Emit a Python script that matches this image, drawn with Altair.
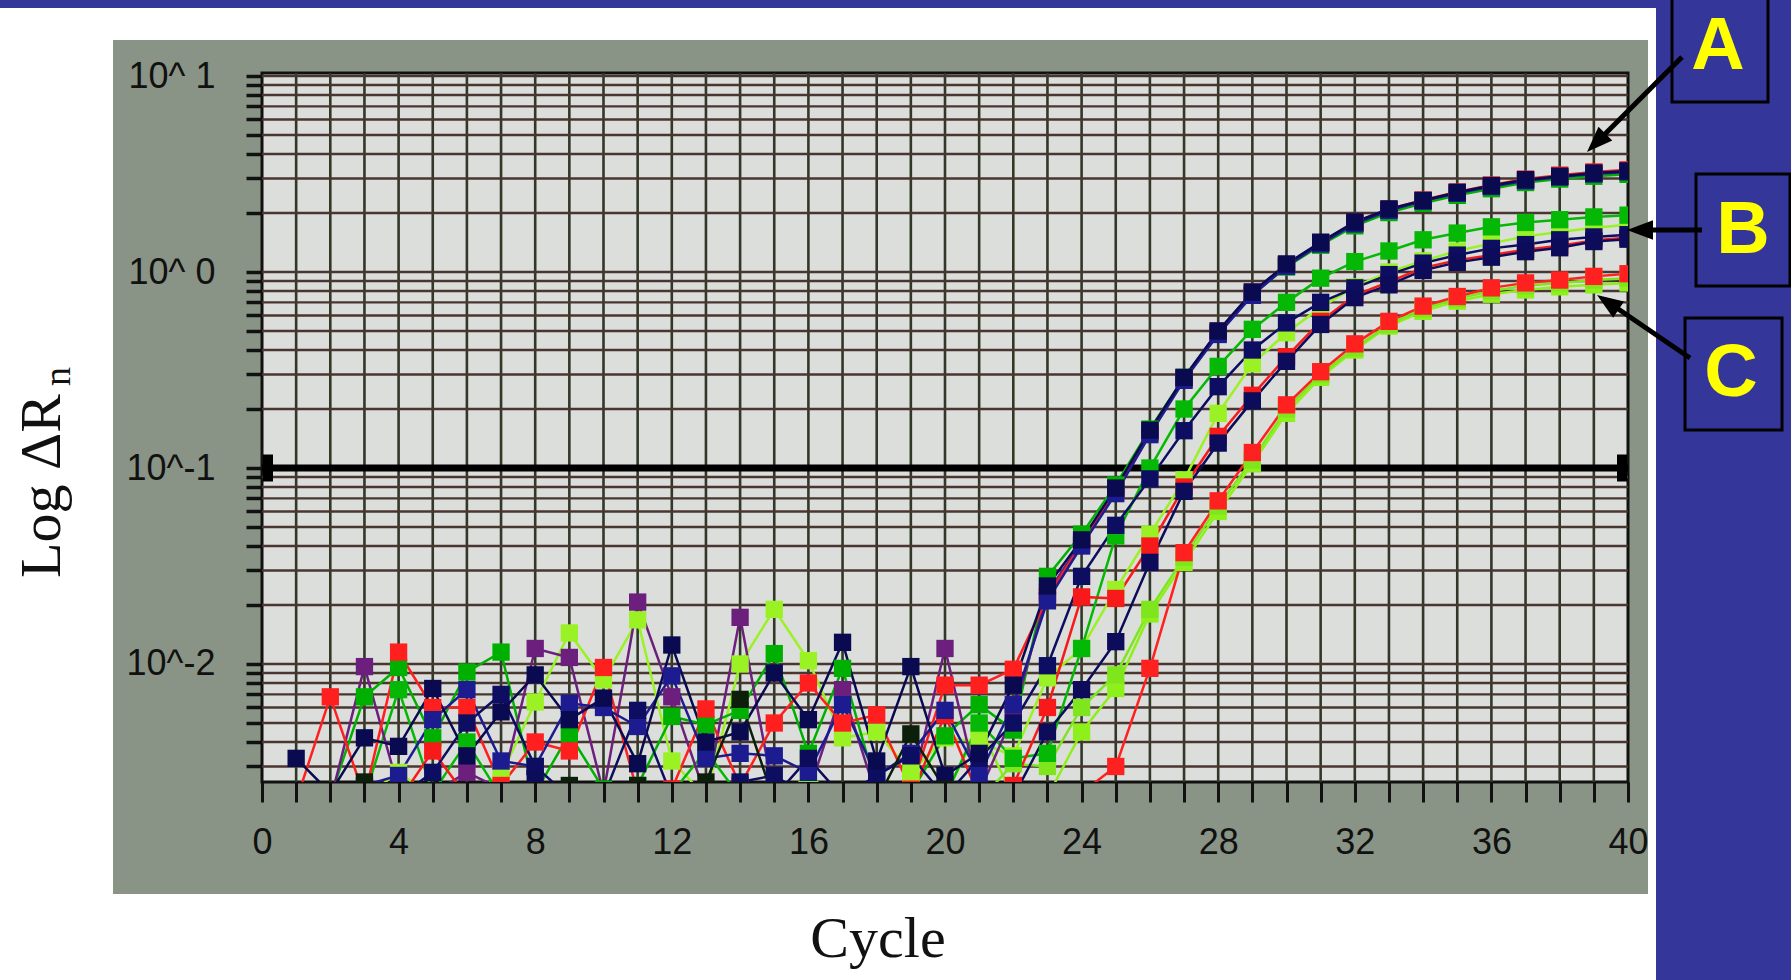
import altair as alt
import pandas as pd

# ---------------- data ----------------
cycles = list(range(1, 41))

a1_navy = [0.0033, 0.0022, 0.0042, 0.0038, 0.0075, 0.0034, 0.0057, 0.0088, 0.0052, 0.0067,
           0.0031, 0.0125, 0.0040, 0.0045, 0.0090, 0.0052, 0.0129, 0.0032, 0.0097, 0.0027,
           0.0035, 0.0078, 0.025, 0.043, 0.079, 0.156, 0.29, 0.50, 0.79, 1.10,
           1.42, 1.80, 2.10, 2.32, 2.55, 2.76, 2.96, 3.08, 3.20, 3.28]
a2_blue = [0.0021, 0.0020, 0.0024, 0.0027, 0.0052, 0.0074, 0.0032, 0.0030, 0.0063, 0.0060,
           0.0048, 0.0087, 0.0033, 0.0035, 0.0034, 0.0028, 0.0062, 0.0027, 0.0035, 0.0058,
           0.0027, 0.0062, 0.021, 0.040, 0.074, 0.148, 0.28, 0.48, 0.76, 1.07,
           1.39, 1.76, 2.06, 2.30, 2.52, 2.73, 2.92, 3.05, 3.16, 3.24]
a3_red = [0.0020, 0.0068, 0.0021, 0.0115, 0.0060, 0.0060, 0.0024, 0.0040, 0.0036, 0.0096,
          0.0022, 0.0023, 0.0059, 0.0024, 0.0050, 0.0080, 0.0050, 0.0055, 0.0023, 0.0078,
          0.0078, 0.0094, 0.022, 0.041, 0.077, 0.152, 0.285, 0.49, 0.78, 1.09,
          1.41, 1.79, 2.09, 2.33, 2.56, 2.78, 2.98, 3.12, 3.24, 3.32]
a4_green = [0.0020, 0.0021, 0.0068, 0.0096, 0.0042, 0.0091, 0.0115, 0.0022, 0.0044, 0.0023,
            0.0024, 0.0054, 0.0049, 0.0058, 0.0113, 0.0035, 0.0095, 0.0023, 0.0022, 0.0043,
            0.0062, 0.0046, 0.028, 0.046, 0.082, 0.158, 0.29, 0.49, 0.77, 1.06,
            1.37, 1.72, 2.01, 2.24, 2.46, 2.66, 2.86, 2.98, 3.08, 3.15]
a5_purple = [0.0020, 0.0020, 0.0097, 0.0023, 0.0022, 0.0028, 0.0023, 0.0120, 0.0108, 0.0022,
             0.0207, 0.0068, 0.0021, 0.0173, 0.0021, 0.0022, 0.0074, 0.0021, 0.0022, 0.0120,
             0.0022, 0.0055, 0.023, 0.042, 0.078, 0.153, 0.288, 0.50, 0.79, 1.09,
             1.41, 1.78, 2.08, 2.31, 2.54, 2.74, 2.95, 3.07, 3.19, 3.27]
b1_green = [0.0020, 0.0020, 0.0021, 0.0074, 0.0022, 0.0040, 0.0021, 0.0022, 0.0021, 0.0022,
            0.0021, 0.0022, 0.0036, 0.0021, 0.0022, 0.0021, 0.0022, 0.0021, 0.0021, 0.0021,
            0.0050, 0.0033, 0.0035, 0.012, 0.045, 0.100, 0.20, 0.33, 0.51, 0.70,
            0.93, 1.13, 1.28, 1.46, 1.58, 1.70, 1.79, 1.85, 1.91, 1.95]
b2_navy = [0.0020, 0.0020, 0.0020, 0.0021, 0.0028, 0.0050, 0.0070, 0.0030, 0.0021, 0.0021,
           0.0058, 0.0021, 0.0021, 0.0025, 0.0027, 0.0021, 0.0021, 0.0027, 0.0034, 0.0021,
           0.0033, 0.0050, 0.0098, 0.028, 0.051, 0.088, 0.155, 0.26, 0.40, 0.55,
           0.70, 0.83, 0.97, 1.11, 1.22, 1.32, 1.38, 1.46, 1.51, 1.55]
b3_lime = [0.0020, 0.0020, 0.0021, 0.0028, 0.0021, 0.0021, 0.0027, 0.0064, 0.0144, 0.0083,
           0.0168, 0.0032, 0.0021, 0.0100, 0.0190, 0.0104, 0.0042, 0.0045, 0.0028, 0.0042,
           0.0040, 0.0034, 0.0085, 0.012, 0.024, 0.046, 0.087, 0.19, 0.34, 0.49,
           0.66, 0.84, 1.00, 1.14, 1.28, 1.40, 1.52, 1.60, 1.68, 1.74]
b4_navy = [0.0020, 0.0020, 0.0020, 0.0020, 0.0021, 0.0021, 0.0021, 0.0026, 0.0021, 0.0021,
           0.0021, 0.0021, 0.0021, 0.0021, 0.0021, 0.0033, 0.0021, 0.0021, 0.0021, 0.0021,
           0.0021, 0.0021, 0.0045, 0.0074, 0.013, 0.033, 0.076, 0.134, 0.22, 0.35,
           0.54, 0.74, 0.86, 1.02, 1.12, 1.19, 1.27, 1.33, 1.43, 1.47]
b5_red = [0.0020, 0.0020, 0.0020, 0.0020, 0.0036, 0.0021, 0.0021, 0.0021, 0.0021, 0.0021,
          0.0021, 0.0021, 0.0021, 0.0021, 0.0021, 0.0021, 0.0021, 0.0021, 0.0021, 0.0055,
          0.0021, 0.0024, 0.0060, 0.022, 0.0216, 0.040, 0.080, 0.145, 0.235, 0.37,
          0.56, 0.76, 0.89, 1.05, 1.15, 1.22, 1.30, 1.36, 1.45, 1.50]
c1_red = [0.0020, 0.0020, 0.0020, 0.0020, 0.0020, 0.0021, 0.0020, 0.0020, 0.0020, 0.0020,
          0.0020, 0.0020, 0.0020, 0.0020, 0.0020, 0.0020, 0.0020, 0.0021, 0.0020, 0.0021,
          0.0021, 0.0021, 0.0021, 0.0022, 0.0030, 0.0095, 0.037, 0.068, 0.12, 0.21,
          0.31, 0.43, 0.56, 0.67, 0.75, 0.83, 0.88, 0.91, 0.95, 0.98]
c2_lime = [0.0020, 0.0020, 0.0020, 0.0020, 0.0021, 0.0020, 0.0020, 0.0020, 0.0020, 0.0020,
           0.0020, 0.0020, 0.0020, 0.0021, 0.0020, 0.0020, 0.0020, 0.0021, 0.0026, 0.0021,
           0.0048, 0.0021, 0.0021, 0.0045, 0.0075, 0.018, 0.033, 0.060, 0.105, 0.19,
           0.29, 0.40, 0.53, 0.63, 0.71, 0.77, 0.81, 0.84, 0.86, 0.88]
c3_lime = [0.0020, 0.0020, 0.0020, 0.0020, 0.0020, 0.0020, 0.0020, 0.0020, 0.0020, 0.0020,
           0.0020, 0.0020, 0.0020, 0.0020, 0.0020, 0.0027, 0.0020, 0.0021, 0.0020, 0.0020,
           0.0020, 0.0031, 0.0030, 0.0060, 0.0088, 0.019, 0.035, 0.064, 0.11, 0.20,
           0.30, 0.41, 0.54, 0.65, 0.73, 0.80, 0.85, 0.88, 0.91, 0.93]
k_black = [0.0020, 0.0020, 0.0025, 0.0020, 0.0020, 0.0020, 0.0020, 0.0020, 0.0024, 0.0020,
           0.0024, 0.0020, 0.0025, 0.0066, 0.0020, 0.0020, 0.0020, 0.0020, 0.0044, 0.0023,
           0.0020, 0.0020, 0.0020, 0.0020, 0.0020, 0.0020, 0.0020, 0.0020, 0.0020, 0.0020,
           0.0020, 0.0020, 0.0020, 0.0020, 0.0020, 0.0020, 0.0020, 0.0020, 0.0020, 0.0020]

# drawing order: first = bottom
series_names = ["C2", "C3", "B3", "A4", "B1", "A5", "A3", "B5", "C1",
                "A2", "B2", "B4", "A1", "K"]
series_values = [c2_lime, c3_lime, b3_lime, a4_green, b1_green, a5_purple, a3_red,
                 b5_red, c1_red, a2_blue, b2_navy, b4_navy, a1_navy, k_black]
series_colors = ["#8ef01a", "#7fe61e", "#9af224", "#00b000", "#06b806", "#6c1f7c",
                 "#ff1f1f", "#f81a1a", "#ff2020", "#1c1c90", "#0d0d62", "#0c0c5a",
                 "#0a0a50", "#0b1f0b"]

threshold = [0.1]
x_grid = list(range(1, 40))
y_grid = [0.003, 0.004, 0.005, 0.006, 0.007, 0.008, 0.009,
          0.01, 0.02, 0.03, 0.04, 0.05, 0.06, 0.07, 0.08, 0.09,
          0.1, 0.2, 0.3, 0.4, 0.5, 0.6, 0.7, 0.8, 0.9,
          1, 2, 3, 4, 5, 6, 7, 8, 9, 10]
x_ticks = list(range(0, 41))

rows = []
for name, vals in zip(series_names, series_values):
    for c, v in zip(cycles, vals):
        rows.append({"series": name, "cycle": c, "value": v})
df = pd.DataFrame(rows)

# ---------------- scales / axes ----------------
W, H = 1366, 709
xscale = alt.Scale(domain=[0, 40], nice=False, zero=False)
yscale = alt.Scale(type="log", domain=[0.0025, 10.36], nice=False)

xaxis = alt.Axis(values=x_ticks, format="d",
                 labelExpr="datum.value % 4 == 0 ? datum.label : ''",
                 grid=False, domain=False, ticks=True, tickSize=20, tickWidth=3,
                 tickColor="#111111", labelFont="Liberation Sans", labelFontSize=36,
                 labelColor="#111111", labelPadding=40, labelBaseline="middle",
                 labelOverlap=False, labelFlush=False, title=None)
yaxis = alt.Axis(values=y_grid,
                 labelExpr="datum.value == 10 ? '10^ 1' : datum.value == 1 ? '10^ 0' : "
                           "datum.value == 0.1 ? '10^-1' : datum.value == 0.01 ? '10^-2' : ''",
                 grid=False, domain=False, ticks=True, tickSize=16, tickWidth=3.5,
                 tickColor="#111111", labelFont="Liberation Sans", labelFontSize=36,
                 labelColor="#111111", labelPadding=31, labelOverlap=False,
                 labelFlush=False, title=None)


def X(field):
    return alt.X(field, scale=xscale, axis=xaxis)


def Y(field):
    return alt.Y(field, scale=yscale, axis=yaxis)


dummy = pd.DataFrame({"k": [0]})


def rect(x, x2, y, y2, fill, stroke=None, sw=0):
    kw = dict(fill=fill, clip=False)
    if stroke:
        kw.update(stroke=stroke, strokeWidth=sw)
    return alt.Chart(dummy).mark_rect(**kw).encode(
        x=alt.value(x), x2=alt.value(x2), y=alt.value(y), y2=alt.value(y2))


def text(t, x, y, size, font, weight="normal", color="#111111", angle=0,
         align="center", baseline="alphabetic"):
    return alt.Chart(dummy).mark_text(
        text=t, font=font, fontSize=size, fontWeight=weight, color=color,
        angle=angle, align=align, baseline=baseline, clip=False).encode(
        x=alt.value(x), y=alt.value(y))


def shaft(x, y, x2, y2):
    return alt.Chart(dummy).mark_rule(color="black", strokeWidth=5, clip=False).encode(
        x=alt.value(x), y=alt.value(y), x2=alt.value(x2), y2=alt.value(y2))


def head(x, y, ang):
    return alt.Chart(dummy).mark_point(
        shape="M0,-1L0.75,1L-0.75,1Z", size=676, filled=True, color="black",
        opacity=1, angle=ang, clip=False).encode(x=alt.value(x), y=alt.value(y))


SLIDE = "#34369a"
layers = [
    # white margins around the scanned grey panel
    rect(-262, -149, -73, 907, "white"),
    rect(-262, 1394, -73, -33, "white"),
    rect(-262, 1394, 821, 907, "white"),
    rect(1386, 1394, -73, 907, "white"),
    # slide frame
    rect(-262, 1529, -73, -65, SLIDE),
    rect(1394, 1529, -73, 907, SLIDE),
]

vgrid = alt.Chart(pd.DataFrame({"c": x_grid})).mark_rule(
    color="#303828", strokeWidth=2.6).encode(x=X("c:Q"))
hgrid = alt.Chart(pd.DataFrame({"v": y_grid})).mark_rule(
    color="#4a3630", strokeWidth=2.4).encode(y=Y("v:Q"))
thr = alt.Chart(pd.DataFrame({"t": threshold})).mark_rule(
    color="black", strokeWidth=7).encode(y=Y("t:Q"))
thr_ends = alt.Chart(pd.DataFrame({"t": threshold})).mark_point(
    shape="M-0.37,-1L0.37,-1L0.37,1L-0.37,1Z", size=729, filled=True,
    color="black", opacity=1).encode(y=Y("t:Q"), x=alt.value(6))
thr_ends2 = alt.Chart(pd.DataFrame({"t": threshold})).mark_point(
    shape="M-0.37,-1L0.37,-1L0.37,1L-0.37,1Z", size=729, filled=True,
    color="black", opacity=1).encode(y=Y("t:Q"), x=alt.value(W - 6))

color = alt.Color("series:N", scale=alt.Scale(domain=series_names, range=series_colors),
                  legend=None)
lines = alt.Chart(df).mark_line(strokeWidth=2.5, clip=True).encode(
    x=X("cycle:Q"), y=Y("value:Q"), color=color, detail="series:N")
points = alt.Chart(df).mark_square(size=300, filled=True, opacity=1, clip=True).encode(
    x=X("cycle:Q"), y=Y("value:Q"), color=color)

layers += [vgrid, hgrid, thr, thr_ends, thr_ends2, lines, points]

# axis titles
layers += [
    text("Cycle", 616, 884, 58, "Liberation Serif"),
    text("Log \u0394R", -202, 505, 58, "Liberation Serif", angle=270, align="left"),
    text("n", -192, 313, 38, "Liberation Serif", angle=270, align="left"),
]

# annotation boxes and arrows
layers += [
    rect(1410, 1506, -80, 29, SLIDE, "black", 3),
    rect(1434, 1528, 101, 213, SLIDE, "black", 3),
    rect(1423, 1520, 245, 357, SLIDE, "black", 3),
    text("A", 1456, -26, 74, "Liberation Sans", weight="bold", color="#ffff00",
         baseline="middle"),
    text("B", 1481, 158, 74, "Liberation Sans", weight="bold", color="#ffff00",
         baseline="middle"),
    text("C", 1469, 301, 74, "Liberation Sans", weight="bold", color="#ffff00",
         baseline="middle"),
    shaft(1420, -16, 1334, 70),
    head(1334.2, 69.8, 225),
    shaft(1440, 157, 1378, 157),
    head(1378, 157, 270),
    shaft(1428, 285, 1346, 229),
    head(1345.8, 229.3, 304),
]

chart = alt.layer(*layers).properties(
    width=W, height=H,
    padding={"left": 262, "top": 73, "right": 163, "bottom": 198},
    autosize=alt.AutoSizeParams(type="none"),
    background="#8a9486",
).configure_view(fill="#dcdedb", stroke="#111111", strokeWidth=3)

chart.save("out.html", embed_options={"renderer": "svg", "actions": False})
